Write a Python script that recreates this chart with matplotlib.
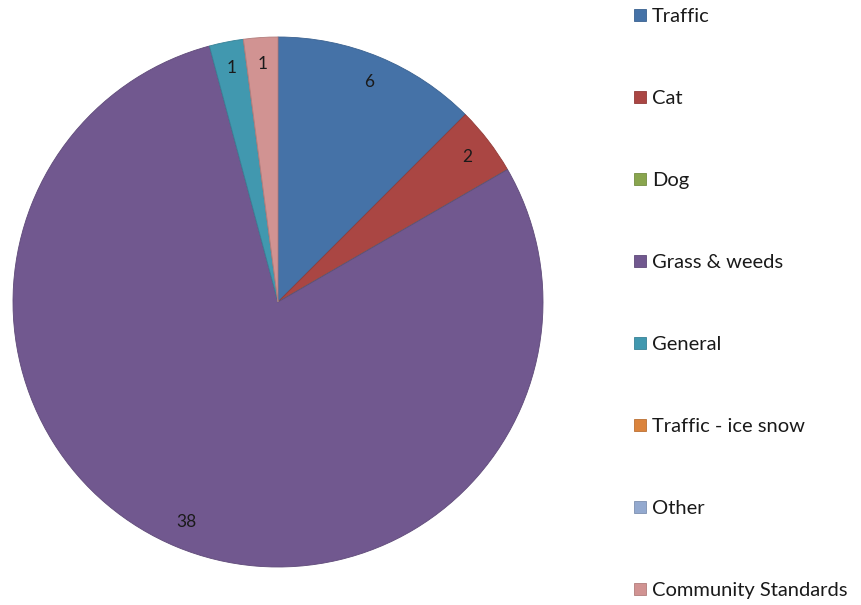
import matplotlib
matplotlib.use("Agg")
import matplotlib.pyplot as plt

categories = ["Traffic", "Cat", "Dog", "Grass & weeds", "General",
              "Traffic - ice snow", "Other", "Community Standards"]
values = [6, 2, 0, 38, 1, 0, 0, 1]
colors = ["#4572A7", "#AA4643", "#89A54E", "#71588F", "#4198AF",
          "#DB843D", "#93A9CF", "#D19392"]
edge_colors = ["#3A6190", "#923B38", "#748D42", "#5F4A79", "#378196",
               "#BA7034", "#7D90B0", "#B27D7C"]

plt.rcParams['font.family'] = ['Lato', 'DejaVu Sans']

fig = plt.figure(figsize=(8.61, 6.05), dpi=100)
W, H = 861, 605
cx, cy, r = 278, 302, 265
ax = fig.add_axes([(cx - r) / W, (H - cy - r) / H, 2 * r / W, 2 * r / H])

total = sum(values)
wedges, texts, autotexts = ax.pie(
    values, colors=colors, startangle=90, counterclock=False,
    autopct=lambda p: f"{round(p * total / 100):.0f}" if p > 0 else "",
    pctdistance=0.9, radius=1,
    wedgeprops=dict(linewidth=0.6),
    textprops=dict(fontsize=12.5, color="#1a1a1a"))
for w, ec in zip(wedges, edge_colors):
    w.set_edgecolor(ec)
ax.set_xlim(-1, 1)
ax.set_ylim(-1, 1)

leg = fig.legend(wedges, categories, loc="upper left",
                 bbox_to_anchor=(634 / W, 1 - 8 / H), frameon=False,
                 fontsize=14.5, handlelength=0.58, handleheight=0.58,
                 handletextpad=0.3, labelspacing=3.23, borderpad=0,
                 borderaxespad=0)
for t in leg.get_texts():
    t.set_color("#1a1a1a")

fig.savefig("out.png", dpi=100)
